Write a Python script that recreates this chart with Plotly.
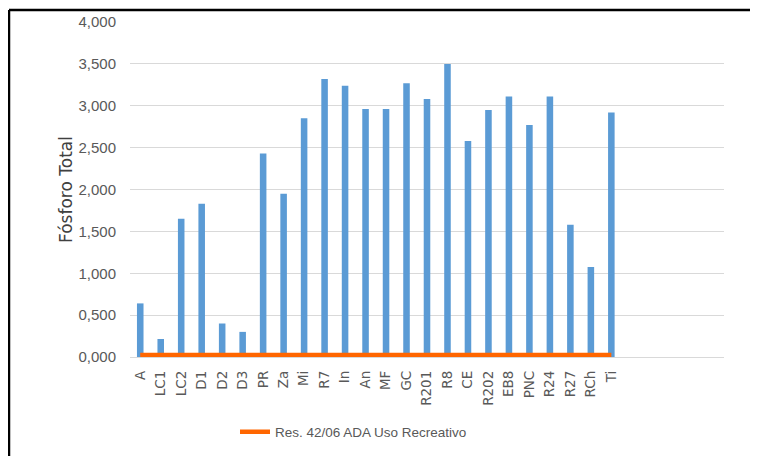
import plotly.graph_objects as go

categories = ["A", "LC1", "LC2", "D1", "D2", "D3", "PR", "Za", "Mi", "R7", "In", "An",
              "MF", "GC", "R201", "R8", "CE", "R202", "EB8", "PNC", "R24", "R27", "RCh", "Ti"]
fosforo_total = [0.64, 0.215, 1.65, 1.83, 0.40, 0.30, 2.43, 1.95, 2.85, 3.32, 3.24, 2.96,
                 2.96, 3.27, 3.08, 3.50, 2.58, 2.95, 3.11, 2.77, 3.11, 1.58, 1.075, 2.92]
limite_res_42_06 = [0.025] * len(categories)
empty_slots = 5

y_ticks = [0, 0.5, 1, 1.5, 2, 2.5, 3, 3.5, 4]

# page body keeps an 8px margin, so the figure is laid out 8px up/left
W, H = 750, 448
L, R, T, B = 122, 34, 14, 99
pw, ph = W - L - R, H - T - B

fig = go.Figure()
fig.add_trace(go.Bar(
    x=categories, y=fosforo_total, marker=dict(color="#5B9BD5", line=dict(width=0)),
    width=0.32, showlegend=False, name="Fósforo Total"))
fig.add_trace(go.Scatter(
    x=categories, y=limite_res_42_06, mode="lines",
    line=dict(color="#FF6600", width=4.5),
    name="Res. 42/06 ADA Uso Recreativo"))

bx0, bx1 = (1 - L) / pw, (W - L) / pw
by0, by1 = -(H - T - ph) / ph, 1 + (T - 2) / ph
fig.update_layout(
    width=W, height=H,
    margin=dict(l=L, r=R, t=T, b=B, autoexpand=False),
    paper_bgcolor="white", plot_bgcolor="white",
    separators=",.",
    showlegend=True,
    legend=dict(orientation="h", x=(227 - L) / pw, y=-(424 - (T + ph)) / ph,
                xanchor="left", yanchor="middle",
                font=dict(family="Liberation Sans Narrow, Arial Narrow, sans-serif", size=13.5, color="#595959"),
                bgcolor="rgba(0,0,0,0)"),
    xaxis=dict(type="category", range=[-0.5, len(categories) + empty_slots - 0.5],
               automargin=False,
               tickangle=-90, showgrid=False, showline=False, zeroline=False,
               ticks="", ticklabelstandoff=10,
               tickfont=dict(family="DejaVu Sans, Verdana, sans-serif", size=13.5, color="#595959")),
    yaxis=dict(range=[0, 4], tickvals=y_ticks, tickformat=".3f", automargin=False,
               showgrid=True, gridcolor="#D9D9D9", gridwidth=1,
               zeroline=True, zerolinecolor="#D9D9D9", zerolinewidth=1,
               showline=False, ticks="", ticklabelstandoff=13,
               tickfont=dict(family="Liberation Sans Narrow, Arial Narrow, sans-serif", size=15, color="#595959"),
               title=dict(text="Fósforo Total", standoff=1,
                          font=dict(family="DejaVu Sans, Verdana, sans-serif", size=17, color="#404040"))),
    shapes=[
        dict(type="line", xref="paper", yref="paper", x0=bx0, x1=bx1, y0=by1, y1=by1,
             line=dict(color="black", width=2.5), layer="above"),
        dict(type="line", xref="paper", yref="paper", x0=bx0, x1=bx0, y0=by0, y1=by1,
             line=dict(color="black", width=2.5), layer="above"),
    ],
)

fig.write_html("out.html")
